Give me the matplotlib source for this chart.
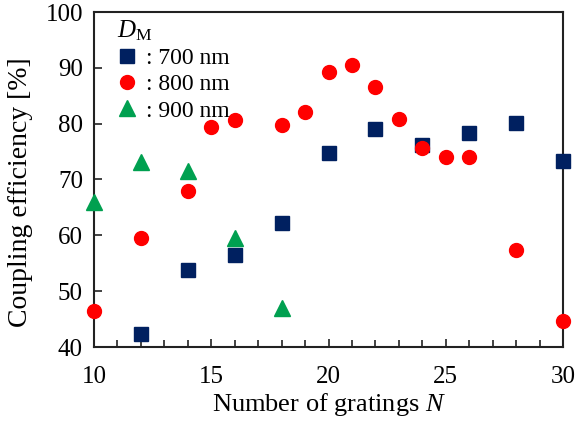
import matplotlib.pyplot as plt
from matplotlib.ticker import MultipleLocator

plt.rcParams["font.family"] = ["Liberation Serif", "DejaVu Serif"]
plt.rcParams["mathtext.fontset"] = "custom"
plt.rcParams["mathtext.rm"] = "Liberation Serif"
plt.rcParams["mathtext.it"] = "Liberation Serif:italic"

# 700 nm
n_700 = [12, 14, 16, 18, 20, 22, 24, 26, 28, 30]
eff_700 = [42.3, 53.8, 56.4, 62.2, 74.8, 79.0, 76.1, 78.3, 80.2, 73.3]

# 800 nm
n_800 = [10, 12, 14, 15, 16, 18, 19, 20, 21, 22, 23, 24, 25, 26, 28, 30]
eff_800 = [46.5, 59.6, 67.9, 79.4, 80.6, 79.8, 82.0, 89.2, 90.5, 86.6,
           80.9, 75.6, 74.0, 74.0, 57.4, 44.6]

# 900 nm
n_900 = [10, 12, 14, 16, 18]
eff_900 = [66.0, 73.1, 71.5, 59.5, 47.0]

fig = plt.figure(figsize=(5.75, 4.28), dpi=100)
ax = fig.add_axes([94 / 575, 1 - 347 / 428, 469 / 575, 335 / 428])

ax.plot(n_700, eff_700, "s", color="#002060", markersize=10, label=": 700 nm",
        clip_on=False, zorder=3)
ax.plot(n_800, eff_800, "o", color="#FF0000", markersize=10, label=": 800 nm",
        clip_on=False, zorder=3)
ax.plot(n_900, eff_900, "^", color="#00A050", markersize=11, label=": 900 nm",
        clip_on=False, zorder=3)

ax.set_xlim(10, 30)
ax.set_ylim(40, 100)
ax.xaxis.set_major_locator(MultipleLocator(5))
ax.xaxis.set_minor_locator(MultipleLocator(1))
ax.yaxis.set_major_locator(MultipleLocator(10))
ax.tick_params(axis="both", which="both", direction="in", labelsize=18,
               top=False, right=False, width=1.2, color="#222222")
ax.tick_params(axis="x", which="major", length=6, pad=14)
ax.tick_params(axis="x", which="minor", length=5)
ax.tick_params(axis="y", which="major", length=6, pad=8)
for s in ax.spines.values():
    s.set_linewidth(1.5)
    s.set_color("#222222")

ax.set_xlabel("Number of gratings $\\it{N}$", fontsize=19, labelpad=2)
ax.set_ylabel("Coupling efficiency [%]", fontsize=20)
ax.yaxis.set_label_coords(-0.130, 0.463)

leg = ax.legend(loc="upper left", bbox_to_anchor=(0.04, 0.995),
                title="$\\it{D}_{\\rm M}$", fontsize=17,
                title_fontsize=18, frameon=False, handlelength=0.8,
                handletextpad=0.4, borderaxespad=0.0, labelspacing=0.2,
                borderpad=0.2)
leg._legend_box.align = "left"

fig.savefig("out.png", dpi=100)
